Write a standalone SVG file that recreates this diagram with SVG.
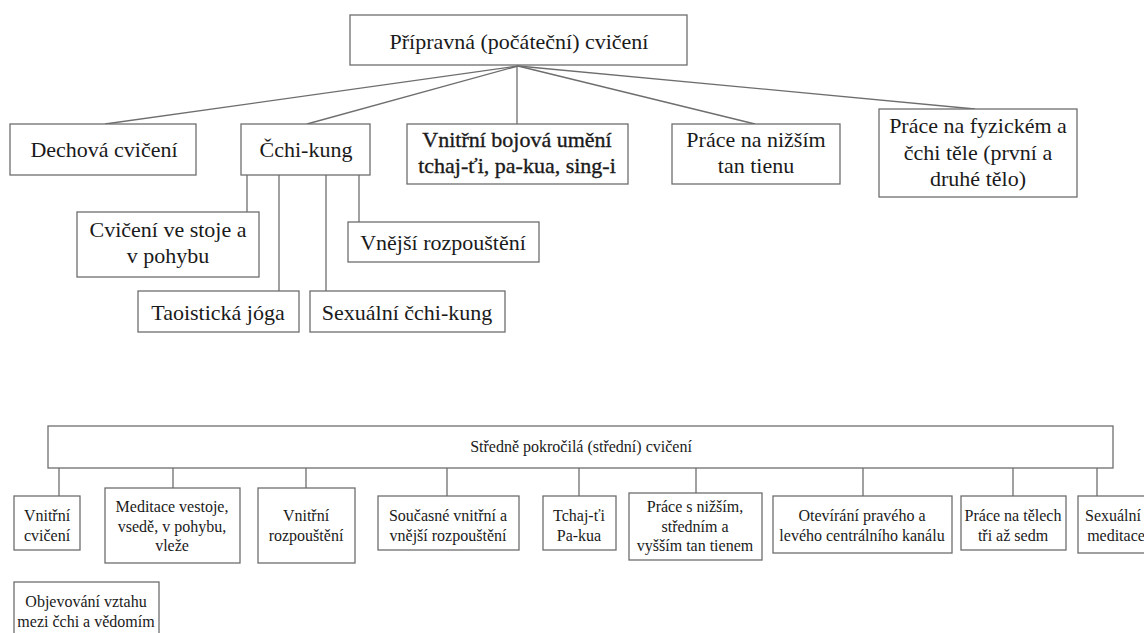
<svg xmlns="http://www.w3.org/2000/svg" width="1144" height="633" viewBox="0 0 1144 633">
<style>
.b{fill:#fff;stroke:#6e6e6e;stroke-width:1.3}
.c{fill:none;stroke:#6e6e6e;stroke-width:1.3}
text{font-family:'Liberation Serif','DejaVu Serif',serif;fill:#1a1a1a;text-anchor:middle}
.t{font-size:22px}
.s{font-size:16px}
.bold{stroke:#1a1a1a;stroke-width:0.35}
</style>
<rect width="1144" height="633" fill="#fff"/>
<g id="connectors">
<line class="c" x1="518" y1="66" x2="105" y2="124"/>
<line class="c" x1="518" y1="66" x2="307" y2="124"/>
<line class="c" x1="517" y1="66" x2="517" y2="124"/>
<line class="c" x1="518" y1="66" x2="755" y2="124"/>
<line class="c" x1="518" y1="66" x2="975" y2="109"/>
<line class="c" x1="247" y1="175" x2="247" y2="212"/>
<line class="c" x1="279" y1="175" x2="279" y2="291"/>
<line class="c" x1="326" y1="175" x2="326" y2="291"/>
<line class="c" x1="359" y1="175" x2="359" y2="222"/>
<line class="c" x1="59" y1="468" x2="59" y2="496"/>
<line class="c" x1="173" y1="468" x2="173" y2="488"/>
<line class="c" x1="306" y1="468" x2="306" y2="488"/>
<line class="c" x1="447" y1="468" x2="447" y2="496"/>
<line class="c" x1="579" y1="468" x2="579" y2="496"/>
<line class="c" x1="696" y1="468" x2="696" y2="493"/>
<line class="c" x1="863" y1="468" x2="863" y2="496"/>
<line class="c" x1="1013" y1="468" x2="1013" y2="496"/>
<line class="c" x1="1097" y1="468" x2="1097" y2="496"/>
</g>
<g id="root">
<rect class="b" x="350" y="15" width="337" height="50"/>
<text class="t" x="519" y="49" font-family="Liberation Serif, serif">Přípravná (počáteční) cvičení</text>
</g>
<g id="dechova">
<rect class="b" x="10" y="124" width="186" height="51"/>
<text class="t" x="104" y="157">Dechová cvičení</text>
</g>
<g id="cchikung">
<rect class="b" x="241" y="124" width="129" height="51"/>
<text class="t" x="306" y="157">Čchi-kung</text>
</g>
<g id="bojova">
<rect class="b" x="407" y="124" width="221" height="60"/>
<text class="t bold" x="517" y="147">Vnitřní bojová umění</text>
<text class="t bold" x="517" y="173">tchaj-ťi, pa-kua, sing-i</text>
</g>
<g id="nizsim">
<rect class="b" x="672" y="124" width="168" height="60"/>
<text class="t" x="756" y="147">Práce na nižším</text>
<text class="t" x="756" y="173">tan tienu</text>
</g>
<g id="fyzickem">
<rect class="b" x="879" y="109" width="198" height="88"/>
<text class="t" x="978" y="133">Práce na fyzickém a</text>
<text class="t" x="978" y="160">čchi těle (první a</text>
<text class="t" x="978" y="186">druhé tělo)</text>
</g>
<g id="stoje">
<rect class="b" x="77" y="212" width="182" height="65"/>
<text class="t" x="168" y="237">Cvičení ve stoje a</text>
<text class="t" x="168" y="263">v pohybu</text>
</g>
<g id="joga">
<rect class="b" x="138" y="291" width="161" height="41"/>
<text class="t" x="218" y="320">Taoistická jóga</text>
</g>
<g id="sexcchi">
<rect class="b" x="310" y="291" width="195" height="41"/>
<text class="t" x="407" y="320">Sexuální čchi-kung</text>
</g>
<g id="vnejsi">
<rect class="b" x="348" y="222" width="191" height="40"/>
<text class="t" x="443" y="250">Vnější rozpouštění</text>
</g>
<g id="stredne">
<rect class="b" x="48" y="426" width="1065" height="42"/>
<text class="s" x="581" y="452">Středně pokročilá (střední) cvičení</text>
</g>
<g id="vnitrnicviceni">
<rect class="b" x="14" y="496" width="66" height="54"/>
<text class="s" x="47" y="521">Vnitřní</text>
<text class="s" x="47" y="541">cvičení</text>
</g>
<g id="meditace">
<rect class="b" x="105" y="488" width="135" height="75"/>
<text class="s" x="172" y="512">Meditace vestoje,</text>
<text class="s" x="172" y="532">vsedě, v pohybu,</text>
<text class="s" x="172" y="551">vleže</text>
</g>
<g id="vnitrnirozp">
<rect class="b" x="258" y="488" width="97" height="75"/>
<text class="s" x="306" y="521">Vnitřní</text>
<text class="s" x="306" y="541">rozpouštění</text>
</g>
<g id="soucasne">
<rect class="b" x="378" y="496" width="141" height="54"/>
<text class="s" x="448" y="521">Současné vnitřní a</text>
<text class="s" x="448" y="541">vnější rozpouštění</text>
</g>
<g id="tchajti">
<rect class="b" x="543" y="496" width="73" height="54"/>
<text class="s" x="579" y="521">Tchaj-ťi</text>
<text class="s" x="579" y="541">Pa-kua</text>
</g>
<g id="tantien">
<rect class="b" x="629" y="493" width="133" height="67"/>
<text class="s" x="695" y="512">Práce s nižším,</text>
<text class="s" x="695" y="532">středním a</text>
<text class="s" x="695" y="551">vyšším tan tienem</text>
</g>
<g id="oteviranie">
<rect class="b" x="773" y="496" width="179" height="57"/>
<text class="s" x="862" y="521">Otevírání pravého a</text>
<text class="s" x="862" y="541">levého centrálního kanálu</text>
</g>
<g id="telech">
<rect class="b" x="961" y="496" width="105" height="54"/>
<text class="s" x="1013" y="521">Práce na tělech</text>
<text class="s" x="1013" y="541">tři až sedm</text>
</g>
<g id="sexmed">
<rect class="b" x="1078" y="496" width="74" height="57"/>
<text class="s" x="1113" y="521">Sexuální</text>
<text class="s" x="1116" y="541">meditace</text>
</g>
<g id="objevovani">
<rect class="b" x="14" y="582" width="145" height="60"/>
<text class="s" x="86" y="607">Objevování vztahu</text>
<text class="s" x="86" y="627">mezi čchi a vědomím</text>
</g>
</svg>
